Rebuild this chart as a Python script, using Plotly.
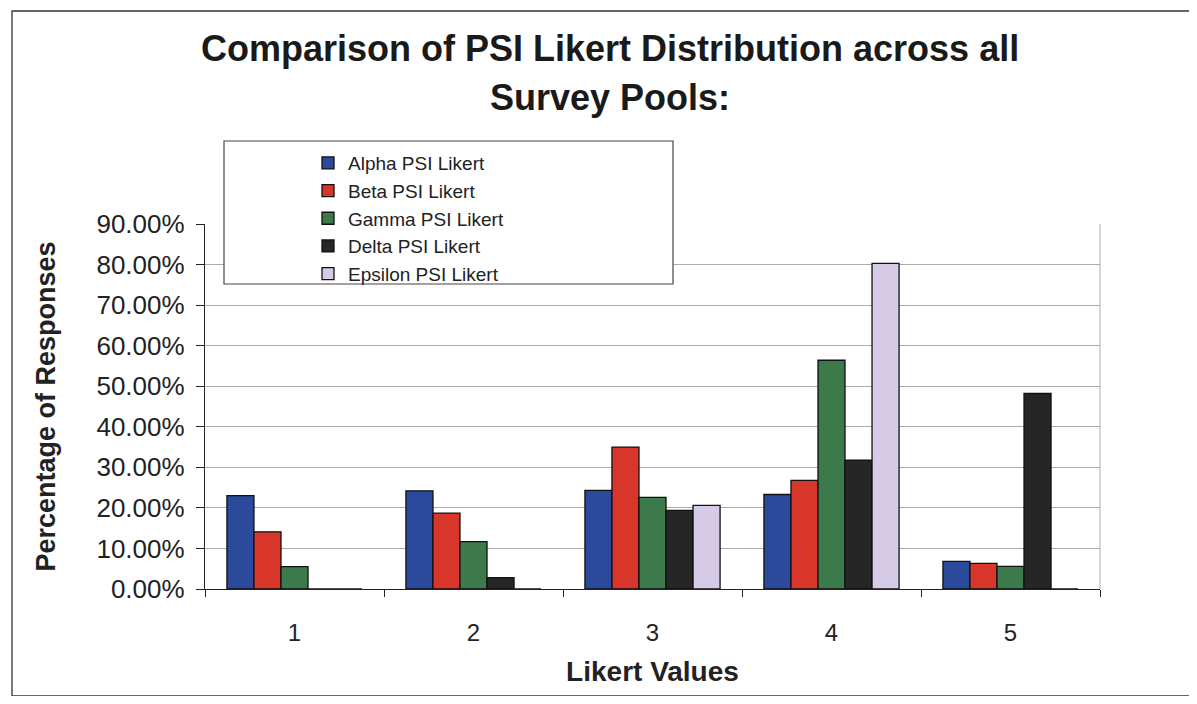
import plotly.graph_objects as go

# ── Data ─────────────────────────────────────────────────────────────
LIKERT = ["1", "2", "3", "4", "5"]

ALPHA = [0.230, 0.242, 0.243, 0.233, 0.068]
BETA = [0.141, 0.187, 0.350, 0.268, 0.063]
GAMMA = [0.055, 0.117, 0.226, 0.564, 0.056]
DELTA = [0.0, 0.028, 0.194, 0.318, 0.482]
EPSILON = [0.0, 0.0, 0.206, 0.803, 0.0]

SERIES = [
    ("Alpha PSI Likert", ALPHA, "#2b4a9c"),
    ("Beta PSI Likert", BETA, "#d8352b"),
    ("Gamma PSI Likert", GAMMA, "#3d7a4b"),
    ("Delta PSI Likert", DELTA, "#262626"),
    ("Epsilon PSI Likert", EPSILON, "#d6cbe6"),
]

Y_TICKS = [i / 10 for i in range(10)]

TITLE_LINES = ["Comparison of PSI Likert Distribution across all", "Survey Pools:"]

FONT = "Arial, Liberation Sans, sans-serif"

# the page body has an 8px margin, so the figure is drawn 8px smaller
# and all screen positions below are shifted by OFF
OFF = 8
W, H = 1197 - 2 * OFF, 704 - 2 * OFF
# plot area in screen pixels
L, R, T, B = 205, 1100, 224, 589


def px_x(x):
    return (x - L) / (R - L)


def px_y(y):
    return (B - y) / (B - T)


fig = go.Figure()

for name, vals, color in SERIES:
    fig.add_trace(go.Bar(
        x=LIKERT, y=vals, name=name,
        marker=dict(color=color, line=dict(color="#111111", width=1.3)),
    ))

fig.update_layout(
    width=W, height=H,
    margin=dict(l=L - OFF, r=W - (R - OFF), t=T - OFF, b=H - (B - OFF),
                autoexpand=False),
    paper_bgcolor="white", plot_bgcolor="white",
    barmode="group", bargap=0.245, bargroupgap=0,
    font=dict(family=FONT, color="#222222"),
    showlegend=True,
    legend=dict(
        x=px_x(308), xanchor="left", y=px_y(144), yanchor="top",
        bgcolor="rgba(0,0,0,0)", borderwidth=0,
        font=dict(size=19, family=FONT, color="#222222"),
        tracegroupgap=0,
    ),
    xaxis=dict(
        type="category", automargin=False,
        showline=True, linecolor="#222222", linewidth=1.3,
        ticks="outside", tickson="boundaries", ticklen=7, tickcolor="#222222",
        ticklabelstandoff=22,
        tickfont=dict(size=24, family=FONT, color="#222222"),
        showgrid=False,
        title=dict(text="<b>Likert Values</b>", standoff=16,
                   font=dict(size=28, family=FONT, color="#222222")),
    ),
    yaxis=dict(
        range=[0, 0.9], automargin=False,
        tickvals=Y_TICKS + [0.9], tickformat=".2%",
        showline=True, linecolor="#222222", linewidth=1.3,
        ticks="outside", ticklen=8, tickcolor="#222222",
        ticklabelstandoff=6,
        tickfont=dict(size=26, family=FONT, color="#222222"),
        showgrid=True, gridcolor="#ababab", gridwidth=1,
        zeroline=False,
        title=dict(text="<b>Percentage of Responses</b>", standoff=33,
                   font=dict(size=27, family=FONT, color="#222222")),
    ),
)

# two-line chart title
for text, y in zip(TITLE_LINES, [48, 97]):
    fig.add_annotation(
        text=f"<b>{text}</b>", showarrow=False,
        xref="paper", yref="paper", x=px_x(610), y=px_y(y),
        xanchor="center", yanchor="middle",
        font=dict(size=36, family=FONT, color="#1a1a1a"),
    )

# right border of the plot area (light grey)
fig.add_shape(type="line", xref="paper", yref="paper",
              x0=1, x1=1, y0=0, y1=1,
              line=dict(color="#ababab", width=1))

# legend box
fig.add_shape(type="rect", xref="paper", yref="paper",
              x0=px_x(224), x1=px_x(673), y0=px_y(284), y1=px_y(141),
              line=dict(color="#444444", width=1.2), fillcolor="white",
              layer="above")

# outer chart frame
fig.add_shape(type="rect", xref="paper", yref="paper",
              x0=px_x(12), x1=px_x(1190), y0=px_y(696), y1=px_y(11),
              line=dict(color="#333333", width=1.3), fillcolor="rgba(0,0,0,0)",
              layer="below")

fig.write_html("out.html")
